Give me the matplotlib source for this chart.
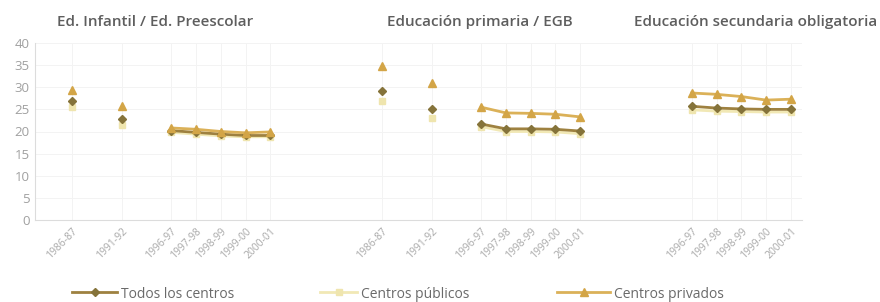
import matplotlib
matplotlib.use('Agg')
import matplotlib.pyplot as plt
from matplotlib.lines import Line2D

plt.rcParams['font.family'] = ['Open Sans', 'DejaVu Sans']

# Data
groups = ['Ed. Infantil / Ed. Preescolar', 'Educación primaria / EGB',
          'Educación secundaria obligatoria']
early_years = ['1986-87', '1991-92']
late_years = ['1996-97', '1997-98', '1998-99', '1999-00', '2000-01']

todos_early = [[26.8, 22.8], [29.2, 25.1], []]
todos_late = [[20.2, 19.8, 19.4, 19.1, 19.1],
              [21.7, 20.6, 20.6, 20.5, 20.1],
              [25.7, 25.3, 25.1, 25.0, 25.0]]
publicos_early = [[25.5, 21.5], [27.0, 23.0], []]
publicos_late = [[19.8, 19.4, 19.0, 18.8, 18.8],
                 [21.1, 20.0, 20.0, 19.9, 19.5],
                 [24.9, 24.6, 24.5, 24.4, 24.4]]
privados_early = [[29.4, 25.8], [34.8, 30.9], []]
privados_late = [[20.8, 20.5, 20.0, 19.7, 19.9],
                 [25.5, 24.2, 24.1, 23.9, 23.3],
                 [28.7, 28.4, 27.9, 27.1, 27.3]]

legend_labels = ['Todos los centros', 'Centros públicos', 'Centros privados']

# (early values, late values, marker, marker colour, line colour, marker size)
series = [
    (todos_early, todos_late, 'D', '#85733a', '#9e8140', 4.5),
    (publicos_early, publicos_late, 's', '#efe5ae', '#f1e8b5', 5),
    (privados_early, privados_late, '^', '#d3a547', '#dbb158', 5.5),
]
draw_order = [1, 0, 2]  # publicos underneath

# Layout of slots along x
early_step = 2.0
late_gap = 2.0
group_gap = 4.5

positions = []  # per group: (early_x, late_x)
cur = 0.0
for g in range(len(groups)):
    ex = []
    if todos_early[g]:
        ex = [cur + i * early_step for i in range(len(early_years))]
        lx_start = ex[-1] + late_gap
    else:
        lx_start = cur
    lx = [lx_start + i for i in range(len(late_years))]
    positions.append((ex, lx))
    cur = lx[-1] + group_gap

fig = plt.figure(figsize=(8.8, 3.02), dpi=100)
ax = fig.add_axes([35 / 880, (302 - 220) / 302, (802 - 35) / 880, (220 - 43) / 302])

for i in draw_order:
    early, late, mk, mcol, lcol, ms = series[i]
    for g in range(len(groups)):
        ex, lx = positions[g]
        if early[g]:
            ax.plot(ex, early[g], linestyle='none', marker=mk, color=mcol,
                    markersize=ms, zorder=3)
        ax.plot(lx, late[g], color=lcol, lw=2, marker=mk, markersize=ms,
                markerfacecolor=mcol, markeredgecolor=mcol, zorder=3)

ticks, labels = [], []
for g in range(len(groups)):
    ex, lx = positions[g]
    if ex:
        ticks += ex
        labels += early_years
    ticks += lx
    labels += late_years

ax.set_xticks(ticks)
ax.set_xticklabels(labels, rotation=45, ha='right', rotation_mode='anchor',
                   fontsize=7.5, color='#a8a8a8')
ax.set_xlim(-1.5, cur - group_gap + 0.45)
ax.set_ylim(0, 40)
ax.set_yticks(range(0, 41, 5))
ax.tick_params(axis='y', labelsize=9.5, colors='#a0a0a0', length=0, pad=4)
ax.tick_params(axis='x', length=0, pad=4)
ax.grid(True, color='#f3f3f3', lw=0.7)
ax.set_axisbelow(True)
for s in ['top', 'right']:
    ax.spines[s].set_visible(False)
for s in ['left', 'bottom']:
    ax.spines[s].set_color('#dcdcdc')

# group titles
title_x = [155, 480, 756]
for t, x in zip(groups, title_x):
    fig.text(x / 880, 1 - 22 / 302, t, ha='center', va='center', fontsize=11,
             color='#5e5e5e', fontweight='semibold')

# legend, drawn item by item
handle_x = [(72, 117), (320, 357), (557, 610)]
leg_y = 1 - 292 / 302
for (early, late, mk, mcol, lcol, ms), lab, (x0, x1) in zip(series, legend_labels, handle_x):
    fig.add_artist(Line2D([x0 / 880, x1 / 880], [leg_y, leg_y], color=lcol,
                          lw=2, transform=fig.transFigure))
    fig.add_artist(Line2D([(x0 + x1) / 2 / 880], [leg_y], marker=mk,
                          markersize=ms, color=mcol, linestyle='none',
                          transform=fig.transFigure))
    fig.text((x1 + 4) / 880, leg_y, lab, ha='left', va='center_baseline',
             fontsize=10, color='#6a6a6a')

fig.savefig('out.png', dpi=100)
